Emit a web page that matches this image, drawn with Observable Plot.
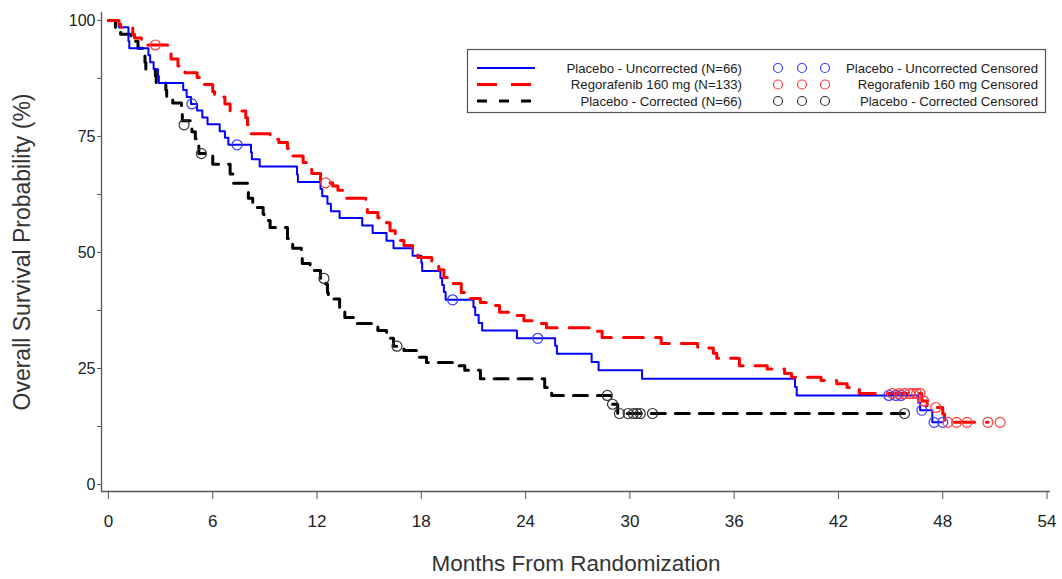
<!DOCTYPE html>
<html>
<head>
<meta charset="utf-8">
<script src="https://cdn.jsdelivr.net/npm/d3@7"></script>
<script src="https://cdn.jsdelivr.net/npm/@observablehq/plot@0.6"></script>
<style>
  html, body { margin: 0; padding: 0; background: #fff; }
  #wrap { position: relative; width: 1062px; height: 579px; }
  #legend { position: absolute; left: 0; top: 0; pointer-events: none; }
</style>
</head>
<body>
<div id="wrap"></div>
<script>
// ---------- data ----------
// Placebo - Uncorrected (N=66): step times (months) and survival (%)
const uncorrTime = [0, 0.6, 1.15, 1.2, 2.3, 2.4, 2.6, 2.85, 2.9, 4.3, 4.5, 4.75, 5.1, 5.4, 5.7, 6.4, 6.7, 6.9, 8.2, 8.25, 8.7, 10.85, 10.9, 12.2, 12.3, 12.6, 12.8, 13.3, 14.6, 15.2, 16.0, 16.4, 17.5, 18.0, 18.05, 19.1, 19.2, 19.3, 19.4, 21.0, 21.1, 21.3, 21.5, 23.5, 25.7, 25.8, 27.8, 28.2, 30.7, 39.5, 39.6, 46.6, 46.7, 47.4, 48.0];
const uncorrSurv = [100, 98.5, 95.5, 94.0, 92.5, 91.0, 89.5, 88.0, 86.5, 85.0, 83.5, 82.0, 80.6, 79.1, 77.6, 76.1, 74.7, 73.2, 71.6, 70.1, 68.5, 66.8, 65.2, 63.7, 62.1, 60.5, 58.9, 57.4, 55.8, 54.2, 52.5, 50.9, 49.3, 47.8, 46.0, 44.5, 43.0, 41.5, 39.8, 38.2, 36.5, 34.8, 33.2, 31.5, 29.9, 28.2, 26.4, 24.6, 22.8, 21.0, 19.2, 17.6, 16.0, 13.4, 13.4];
const uncorrCensTime = [4.8, 7.4, 19.8, 24.7, 44.9, 45.3, 45.6, 46.8, 47.5, 48.0];
const uncorrCensSurv = [82.0, 73.2, 39.8, 31.5, 19.2, 19.2, 19.2, 16.0, 13.4, 13.4];

// Regorafenib 160 mg (N=133)
const regoTime = [0, 0.6, 0.7, 1.4, 1.5, 1.9, 2.0, 3.4, 3.6, 4.0, 4.4, 5.1, 5.4, 6.0, 6.1, 6.7, 7.0, 7.9, 8.0, 8.2, 9.3, 9.8, 10.3, 10.6, 11.2, 11.5, 11.7, 12.2, 12.9, 13.2, 13.5, 14.8, 14.9, 15.5, 16.0, 16.2, 16.5, 17.0, 17.5, 17.8, 18.6, 19.0, 19.3, 19.7, 20.3, 20.6, 21.4, 21.8, 22.5, 23.1, 23.9, 24.4, 25.2, 27.7, 28.4, 31.8, 33.9, 34.8, 35.0, 36.3, 37.9, 38.9, 39.3, 41.0, 41.9, 42.5, 43.2, 46.8, 47.1, 48.0, 48.1, 50.6];
const regoSurv = [100, 99.2, 98.5, 97.0, 96.2, 95.5, 94.7, 93.2, 91.7, 90.2, 88.7, 87.7, 86.2, 84.7, 83.5, 82.0, 80.5, 79.0, 77.5, 75.6, 74.4, 73.7, 72.4, 70.8, 69.4, 67.9, 67.0, 65.0, 64.3, 63.4, 61.7, 60.2, 58.6, 57.5, 56.4, 54.7, 52.6, 51.5, 50.2, 48.9, 47.6, 46.3, 44.6, 43.3, 41.4, 40.1, 39.2, 38.6, 37.1, 36.4, 35.3, 34.7, 33.8, 33.0, 31.7, 30.4, 29.4, 28.3, 27.2, 25.6, 24.9, 23.9, 23.1, 22.4, 21.7, 20.9, 19.6, 18.0, 16.6, 15.2, 13.4, 13.4];
const regoCensTime = [2.7, 12.5, 45.1, 45.5, 45.8, 46.1, 46.3, 46.5, 46.7, 46.9, 47.6, 48.3, 48.8, 49.4, 50.6, 51.3];
const regoCensSurv = [94.7, 65.0, 19.6, 19.6, 19.6, 19.6, 19.6, 19.6, 19.6, 18.0, 16.6, 13.4, 13.4, 13.4, 13.4, 13.4];

// Placebo - Corrected (N=66)
const corrTime = [0, 0.4, 0.7, 1.3, 1.7, 2.0, 2.1, 2.15, 2.7, 2.75, 3.3, 3.35, 3.7, 4.2, 4.25, 4.8, 5.0, 5.2, 6.0, 7.0, 7.2, 8.0, 8.05, 8.3, 8.9, 8.95, 9.3, 10.3, 10.6, 11.1, 11.15, 11.6, 12.2, 12.5, 12.6, 12.65, 13.3, 13.6, 14.3, 15.5, 16.0, 16.4, 17.0, 17.8, 18.3, 19.8, 20.5, 21.4, 25.1, 25.5, 28.9, 29.3, 45.8];
const corrSurv = [100, 98.5, 97.0, 95.5, 94.0, 92.5, 91.0, 89.5, 88.0, 86.5, 85.0, 83.6, 82.2, 80.2, 78.4, 76.0, 74.5, 71.3, 69.0, 66.9, 64.9, 63.3, 61.7, 59.7, 58.3, 56.9, 55.4, 53.0, 50.9, 49.0, 47.6, 46.1, 44.4, 43.2, 41.4, 40.0, 38.0, 36.0, 34.7, 33.2, 31.5, 29.8, 28.9, 27.4, 26.3, 25.6, 24.6, 22.8, 20.9, 19.2, 17.3, 15.3, 15.3];
const corrCensTime = [4.35, 5.35, 12.4, 16.6, 28.7, 29.0, 29.4, 29.9, 30.2, 30.4, 30.6, 31.3, 45.8];
const corrCensSurv = [77.5, 71.3, 44.4, 29.8, 19.2, 17.3, 15.3, 15.3, 15.3, 15.3, 15.3, 15.3, 15.3];

// axis ticks
const xTickValues = [0, 6, 12, 18, 24, 30, 36, 42, 48, 54];
const yMajorTicks = [0, 25, 50, 75, 100];
const yMinorTicks = [12.5, 37.5, 62.5, 87.5];
const xDomain = [-0.4, 54.2];
const yDomain = [-1.5, 101.7];

const xTitle = "Months From Randomization";
const yTitle = "Overall Survival Probability (%)";

// series description
const seriesNames = ["Placebo - Uncorrected (N=66)", "Regorafenib 160 mg (N=133)", "Placebo - Corrected (N=66)"];
const censorNames = ["Placebo - Uncorrected Censored", "Regorafenib 160 mg Censored", "Placebo - Corrected Censored"];
const seriesColors = ["#0000ff", "#ff0000", "#000000"];
const censorColors = ["#3b3bff", "#ff3b3b", "#333333"];
const seriesDash = [null, "20,12", "14,10"];
const seriesWidth = [2, 3, 3];

// ---------- build rows ----------
const toRows = (t, s) => t.map((v, i) => ({t: v, p: s[i]}));
const lines = [toRows(uncorrTime, uncorrSurv), toRows(regoTime, regoSurv), toRows(corrTime, corrSurv)];
const cens = [toRows(uncorrCensTime, uncorrCensSurv), toRows(regoCensTime, regoCensSurv), toRows(corrCensTime, corrCensSurv)];

const font = "'Liberation Sans', Arial, sans-serif";
const order = [2, 0, 1];
const marks = [
  Plot.ruleX([xDomain[0]], {stroke: "#555", strokeWidth: 1.3}),
  Plot.ruleY([yDomain[0]], {stroke: "#555", strokeWidth: 1.3}),
  Plot.axisX({ticks: xTickValues, tickSize: 8, tickPadding: 15, fontSize: 17, label: null, stroke: "#555", color: "#222"}),
  Plot.axisY({ticks: yMajorTicks, tickSize: 4, tickPadding: 2, fontSize: 16, label: null, stroke: "#555"}),
  Plot.axisY({ticks: yMinorTicks, tickSize: 4, tickFormat: () => "", label: null, stroke: "#555"}),
  Plot.text([xTitle], {frameAnchor: "bottom", textAnchor: "middle", lineAnchor: "middle", dy: 72, fontSize: 22.5, fill: "#333"}),
  Plot.text([yTitle], {frameAnchor: "left", textAnchor: "middle", lineAnchor: "middle", rotate: -90, dx: -79, fontSize: 23, fill: "#333"})
];
for (const i of order) {
  marks.push(Plot.line(lines[i], {x: "t", y: "p", curve: "step-after", stroke: seriesColors[i], strokeWidth: seriesWidth[i], strokeDasharray: seriesDash[i]}));
}
for (const i of order) {
  marks.push(Plot.dot(cens[i], {x: "t", y: "p", r: 5, stroke: censorColors[i], strokeWidth: 1.2, fill: "none"}));
}

const chart = Plot.plot({
  width: 1062,
  height: 579,
  marginLeft: 101,
  marginRight: 12,
  marginTop: 12,
  marginBottom: 88,
  x: {domain: xDomain},
  y: {domain: yDomain},
  style: {fontFamily: font, background: "#fff", color: "#222"},
  marks
});
document.getElementById("wrap").appendChild(chart);

// ---------- legend (overlay inside plot area) ----------
const lg = d3.select("#wrap").append("svg")
  .attr("id", "legend").attr("width", 1062).attr("height", 579)
  .style("font-family", font);
lg.append("rect").attr("x", 467.5).attr("y", 49.5).attr("width", 578).attr("height", 63)
  .attr("fill", "#fff").attr("stroke", "#555").attr("stroke-width", 1.2);
seriesNames.forEach((name, i) => {
  const y = 68 + i * 16.5;
  lg.append("line").attr("x1", 477).attr("x2", 535).attr("y1", y).attr("y2", y)
    .attr("stroke", seriesColors[i]).attr("stroke-width", seriesWidth[i])
    .attr("stroke-dasharray", i === 1 ? "20,14" : i === 2 ? "10,12" : null);
  lg.append("text").attr("x", 742).attr("y", y).attr("dy", "0.35em").attr("text-anchor", "end")
    .attr("font-size", 13.2).attr("fill", "#222").text(name);
  [778, 802, 825].forEach(cx => {
    lg.append("circle").attr("cx", cx).attr("cy", y).attr("r", 4.5)
      .attr("fill", "none").attr("stroke", censorColors[i]).attr("stroke-width", 1.2);
  });
  lg.append("text").attr("x", 1038).attr("y", y).attr("dy", "0.35em").attr("text-anchor", "end")
    .attr("font-size", 13.2).attr("fill", "#222").text(censorNames[i]);
});
</script>
</body>
</html>
